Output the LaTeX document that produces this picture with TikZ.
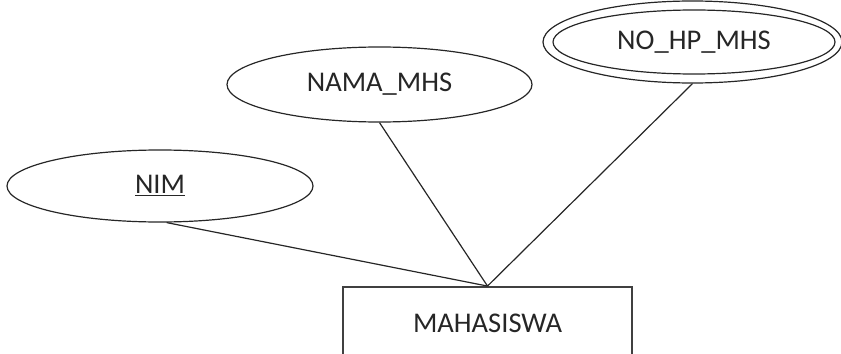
\documentclass[tikz,border=0pt]{standalone}
\usepackage{fontspec}
\setmainfont{Carlito}
\usetikzlibrary{shapes.geometric}
\begin{document}
\begin{tikzpicture}[x=0.75pt,y=-0.75pt,
  every node/.style={font=\fontsize{21.4pt}{25pt}\selectfont, text=black!85},
  attr/.style={ellipse, draw=black!85, line width=0.9pt, inner sep=0pt},
  entity/.style={rectangle, draw=black!75, line width=1.4pt, inner sep=0pt,
    minimum width={289*0.75pt}, minimum height={72*0.75pt}},
  link/.style={draw=black!85, line width=0.9pt}]
  \clip (0,0) rectangle (841,353);
  % entity
  \node[entity] (mhs) at (487.5,323) {MAHASISWA};
  % attributes
  \node[attr, minimum width={306*0.75pt}, minimum height={72*0.75pt}] (nim) at (160,186) {\underline{NIM}};
  \node[attr, minimum width={305*0.75pt}, minimum height={75*0.75pt}] (nama) at (379.5,84.5) {NAMA\_MHS};
  % multivalued attribute: double ellipse
  \node[attr, minimum width={299*0.75pt}, minimum height={82*0.75pt}] (hp) at (692.5,42) {};
  \node[attr, minimum width={282*0.75pt}, minimum height={64*0.75pt}] (hpin) at (694,42) {NO\_HP\_MHS};
  % connectors
  \draw[link] ([xshift=5pt]nim.south) -- (mhs.north);
  \draw[link] (nama.south) -- (mhs.north);
  \draw[link] (hp.south) -- (mhs.north);
\end{tikzpicture}
\end{document}
